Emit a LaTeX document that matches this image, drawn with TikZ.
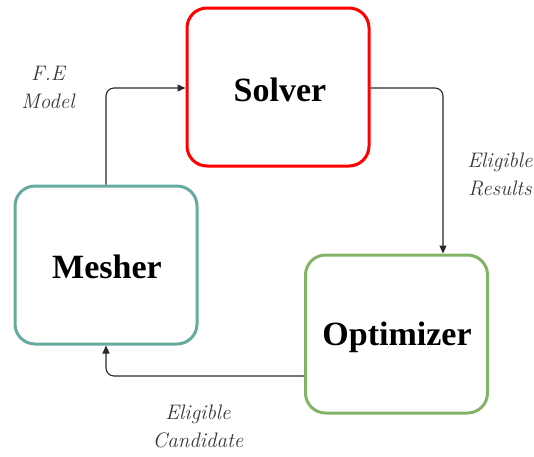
\documentclass[tikz,border=0pt]{standalone}
\usepackage{fontspec}
\newfontfamily\boxfont{Liberation Serif}
\usetikzlibrary{arrows.meta}
\definecolor{solverred}{RGB}{255,0,0}
\definecolor{meshteal}{RGB}{103,171,159}
\definecolor{optgreen}{RGB}{130,179,102}
\definecolor{linkgrey}{RGB}{40,40,40}
\definecolor{labelgrey}{RGB}{55,55,55}
\tikzset{
  block/.style={draw, line width=3pt, rounded corners=20pt, minimum width=182pt, minimum height=158pt,
    inner sep=0pt},
  title/.style={font=\fontsize{34}{38}\selectfont\boxfont\bfseries},
  link/.style={draw=linkgrey, line width=1.1pt, rounded corners=8pt, -{Triangle[length=8pt,width=7pt]}},
  tag/.style={font=\fontsize{21}{28}\selectfont\itshape, text=labelgrey, align=center}
}
\begin{document}
\begin{tikzpicture}[x=1pt,y=-1pt]
\useasboundingbox (0,0) rectangle (534,456);
\node[block, draw=solverred] (solver) at (278,87) {};
\node[block, draw=meshteal] (mesher) at (106,265) {};
\node[block, draw=optgreen] (optimizer) at (396.5,334) {};
\node[title] (solvertext) at (280,90) {Solver};
\node[title] (meshertext) at (107,267) {Mesher};
\node[title] (optimizertext) at (397,337) {Optimizer};
\coordinate (c1) at (106,88);
\coordinate (c2) at (443,88);
\coordinate (c3) at (106,376);
\draw[link] (mesher.north) -- (c1) -- (solver.west |- c1);
\draw[link] (solver.east |- c2) -- (c2) -- (optimizer.north -| c2);
\draw[link] (optimizer.west |- c3) -- (c3) -- (mesher.south);
\node[tag] (fe) at (48,87) {F.E\\Model};
\node[tag] (res) at (500,174) {Eligible\\Results};
\node[tag] (cand) at (198,426) {Eligible\\Candidate};
\end{tikzpicture}
\end{document}
